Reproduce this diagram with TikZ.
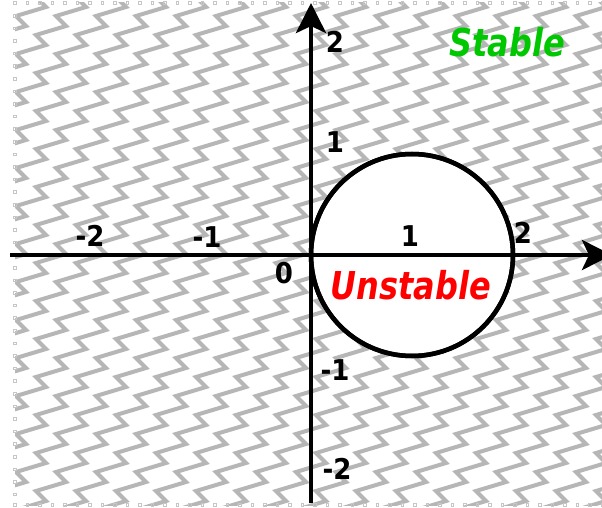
\documentclass[tikz,border=0pt]{standalone}
\usepackage{fontspec}
\setmainfont{DejaVu Sans}
\usetikzlibrary{arrows.meta}
\definecolor{patgray}{RGB}{182,182,182}
\definecolor{stgreen}{RGB}{0,200,0}
\definecolor{ustred}{RGB}{255,0,0}
\begin{document}
\begin{tikzpicture}[x=1pt,y=-1pt,
  zig/.style={draw=patgray,line width=4pt},
  axisline/.style={line width=4.5pt,-{Stealth[length=30pt,width=30pt,inset=7pt]}},
  num/.style={font=\bfseries\fontsize{26}{26}\selectfont,inner sep=0pt},
  word/.style={font=\bfseries\itshape\fontsize{32}{32}\selectfont,inner sep=0pt},
  edgemark/.style={draw=gray!45,line width=0.7pt}]
\useasboundingbox (0,0) rectangle (602,508);
\fill[white] (0,0) rectangle (602,508);
% hatch pattern
\begin{scope}
\clip (15,3) rectangle (602,505);
\foreach \n in {-7,...,23}{
  \draw[zig] ({126-20*24+40*\n},{121+19*24})
    \foreach \m in {-23,...,8}{ -- ({126+20*\m+40*\n},{121-19*\m}) -- ({116+20*\m+40*\n},{111-19*\m}) };
}
\end{scope}
% edge marks
\foreach \k in {0,...,47}{
  \draw[edgemark] ({15+12.5*\k-1.3},1.8) rectangle ++(2.6,2.6);
  \draw[edgemark] ({15+12.5*\k-1.3},503.8) rectangle ++(2.6,2.6);
}
\foreach \k in {1,...,39}{
  \draw[edgemark] (13.7,{3+12.6*\k-1.3}) rectangle ++(2.6,2.6);
}
% unstable region
\node[circle,draw,line width=4.5pt,fill=white,minimum size=202pt,inner sep=0pt] (c) at (412,255) {};
% axes
\coordinate (xl) at (10,255);
\coordinate (xr) at (612,255);
\coordinate (yb) at (311,503);
\coordinate (yt) at (311,3);
\draw[axisline] (xl) -- (xr);
\draw[axisline] (yb) -- (yt);
\draw[line width=4.5pt] (c.center) circle (101);
% labels
\node[num] (xm2) at (90,236) {\scalebox{1}[1.1]{-2}};
\node[num] (xm1) at (207,237) {\scalebox{1}[1.1]{-1}};
\node[num] (xp1) at (410,236) {\scalebox{1}[1.1]{1}};
\node[num] (xp2) at (523,233) {\scalebox{1}[1.1]{2}};
\node[num] (o) at (284,273) {\scalebox{1}[1.1]{0}};
\node[num] (yp2) at (335,42) {\scalebox{1}[1.1]{2}};
\node[num] (yp1) at (335,142) {\scalebox{1}[1.1]{1}};
\node[num] (ym1) at (335,370) {\scalebox{1}[1.1]{-1}};
\node[num] (ym2) at (337,469) {\scalebox{1}[1.1]{-2}};
\node[word,text=stgreen] (st) at (507,42) {\scalebox{1}[1.2]{Stable}};
\node[word,text=ustred] (us) at (411,285) {\scalebox{1}[1.2]{Unstable}};
\end{tikzpicture}
\end{document}
